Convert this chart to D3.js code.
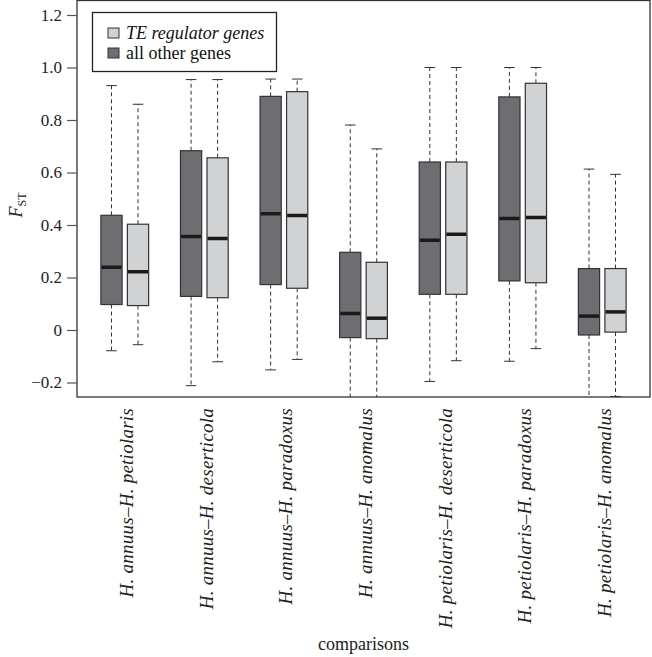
<!DOCTYPE html>
<html>
<head>
<meta charset="utf-8">
<script src="https://cdn.jsdelivr.net/npm/d3@7"></script>
<style>
	body { margin: 0; background: #fff; }
	svg { display: block; }
</style>
</head>
<body>
<div id="chart"></div>
<script>
let comparisons = [
	"H. annuus–H. petiolaris",
	"H. annuus–H. deserticola",
	"H. annuus–H. paradoxus",
	"H. annuus–H. anomalus",
	"H. petiolaris–H. deserticola",
	"H. petiolaris–H. paradoxus",
	"H. petiolaris–H. anomalus"
];
let legendLabels = ["TE regulator genes", "all other genes"];
let yTicks = [-0.2, 0, 0.2, 0.4, 0.6, 0.8, 1.0, 1.2];

// all other genes (dark boxes)
let otherLo = [-0.079, -0.212, -0.152, -0.30, -0.196, -0.119, -0.30];
let otherQ1 = [0.097, 0.128, 0.173, -0.029, 0.136, 0.187, -0.019];
let otherMed = [0.239, 0.356, 0.443, 0.063, 0.342, 0.425, 0.053];
let otherQ3 = [0.437, 0.683, 0.890, 0.296, 0.640, 0.888, 0.234];
let otherHi = [0.931, 0.954, 0.956, 0.781, 1.0, 1.0, 0.613];

// TE regulator genes (light boxes)
let teLo = [-0.056, -0.121, -0.112, -0.30, -0.117, -0.071, -0.253];
let teQ1 = [0.093, 0.123, 0.159, -0.033, 0.136, 0.180, -0.008];
let teMed = [0.222, 0.349, 0.436, 0.045, 0.365, 0.429, 0.069];
let teQ3 = [0.403, 0.656, 0.908, 0.258, 0.640, 0.940, 0.234];
let teHi = [0.860, 0.954, 0.956, 0.690, 1.0, 1.0, 0.593];

let DARK = "#6d6e71";
let LIGHT = "#d1d2d4";
let FONT = '"Liberation Serif"';
let WIDTH = 652, HEIGHT = 657;
let plotLeft = 77, plotRight = 650, plotTop = 0.5, plotBottom = 397;

let boxes = [];
comparisons.forEach((c, i) => {
	boxes.push({ pos: 3 * i + 1, fill: DARK, lo: otherLo[i], q1: otherQ1[i], med: otherMed[i], q3: otherQ3[i], hi: otherHi[i] });
	boxes.push({ pos: 3 * i + 2, fill: LIGHT, lo: teLo[i], q1: teQ1[i], med: teMed[i], q3: teQ3[i], hi: teHi[i] });
});

let svg = d3.select("#chart").append("svg").
	attr("width", WIDTH).
	attr("height", HEIGHT);

let x = d3.scaleLinear().domain([-0.3, 21.3]).range([plotLeft, plotRight]);
let y = d3.scaleLinear().domain([-0.2, 1.2]).range([382.5, 15]);
let bw = (x(1) - x(0)) * 0.8;
let groupX = i => (x(3 * i + 1) + x(3 * i + 2)) / 2;

svg.append("clipPath").attr("id", "plot").
	append("rect").
	attr("x", plotLeft).attr("y", plotTop).
	attr("width", plotRight - plotLeft).attr("height", plotBottom - plotTop);

let plot = svg.append("g").attr("clip-path", "url(#plot)");

let box = plot.selectAll("g.box").
	data(boxes).
	join("g").
	attr("class", "box");

// whiskers
box.append("line").
	attr("x1", d => x(d.pos)).attr("x2", d => x(d.pos)).
	attr("y1", d => y(d.q3)).attr("y2", d => y(d.hi)).
	attr("stroke", "#333").attr("stroke-dasharray", "4,3");
box.append("line").
	attr("x1", d => x(d.pos)).attr("x2", d => x(d.pos)).
	attr("y1", d => y(d.q1)).attr("y2", d => y(d.lo)).
	attr("stroke", "#333").attr("stroke-dasharray", "4,3");
// caps
box.append("line").
	attr("x1", d => x(d.pos) - bw / 4).attr("x2", d => x(d.pos) + bw / 4).
	attr("y1", d => y(d.hi)).attr("y2", d => y(d.hi)).
	attr("stroke", "#333");
box.append("line").
	attr("x1", d => x(d.pos) - bw / 4).attr("x2", d => x(d.pos) + bw / 4).
	attr("y1", d => y(d.lo)).attr("y2", d => y(d.lo)).
	attr("stroke", "#333");

box.append("rect").
	attr("x", d => x(d.pos) - bw / 2).
	attr("width", bw).
	attr("y", d => y(d.q3)).
	attr("height", d => y(d.q1) - y(d.q3)).
	attr("fill", d => d.fill).
	attr("stroke", "#333").
	attr("stroke-width", 1.2);

box.append("line").
	attr("x1", d => x(d.pos) - bw / 2 + 0.6).attr("x2", d => x(d.pos) + bw / 2 - 0.6).
	attr("y1", d => y(d.med)).attr("y2", d => y(d.med)).
	attr("stroke", "#1a1a1a").attr("stroke-width", 3.5);

// frame
svg.append("rect").
	attr("x", plotLeft).attr("y", plotTop).
	attr("width", plotRight - plotLeft).attr("height", plotBottom - plotTop).
	attr("fill", "none").
	attr("stroke", "#333").
	attr("stroke-width", 1.3);

// y axis
let yAxis = svg.append("g").
	attr("transform", `translate(${plotLeft},0)`).
	call(d3.axisLeft(y).tickValues(yTicks).tickSize(10).tickPadding(5).
		tickFormat(d => d === 0 ? "0" : d3.format(".1f")(d).replace("-", "\u2212"))).
	attr("font-size", 17);
yAxis.select(".domain").remove();
yAxis.selectAll("line").attr("stroke", "#555").attr("stroke-width", 1.2);
yAxis.selectAll("text").attr("fill", "#222");

let ylab = svg.append("text").
	attr("transform", "translate(22,205) rotate(-90)").
	attr("text-anchor", "middle").
	attr("font-size", 18).
	attr("fill", "#222");
ylab.append("tspan").attr("font-style", "italic").text("F");
ylab.append("tspan").attr("font-size", 12).attr("dy", 4).text("ST");

// x labels
svg.append("g").
	selectAll("text").
	data(comparisons).
	join("text").
	attr("transform", (d, i) => `translate(${groupX(i) + 8.5},408) rotate(-90)`).
	attr("text-anchor", "end").
	attr("font-style", "italic").
	attr("font-size", 19).
	attr("letter-spacing", 0.25).
	attr("fill", "#222").
	text(d => d);

svg.append("text").
	attr("x", (plotLeft + plotRight) / 2).
	attr("y", 650).
	attr("text-anchor", "middle").
	attr("font-size", 18).
	attr("fill", "#222").
	text("comparisons");

// legend
let legend = svg.append("g");
legend.append("rect").
	attr("x", 92.5).attr("y", 12.5).
	attr("width", 184).attr("height", 59).
	attr("fill", "#fff").
	attr("stroke", "#222").
	attr("stroke-width", 1.3);
let item = legend.selectAll("g").
	data(legendLabels).
	join("g").
	attr("transform", (d, i) => `translate(108,${28 + i * 20})`);
item.append("rect").
	attr("width", 11).attr("height", 10).
	attr("fill", (d, i) => i === 0 ? LIGHT : DARK).
	attr("stroke", "#333");
item.append("text").
	attr("x", 18).attr("y", 10.5).
	attr("font-size", 18).
	attr("font-style", (d, i) => i === 0 ? "italic" : "normal").
	attr("fill", "#111").
	text(d => d);

// every text element gets the serif face directly
svg.selectAll("text").style("font-family", FONT);
</script>
</body>
</html>
